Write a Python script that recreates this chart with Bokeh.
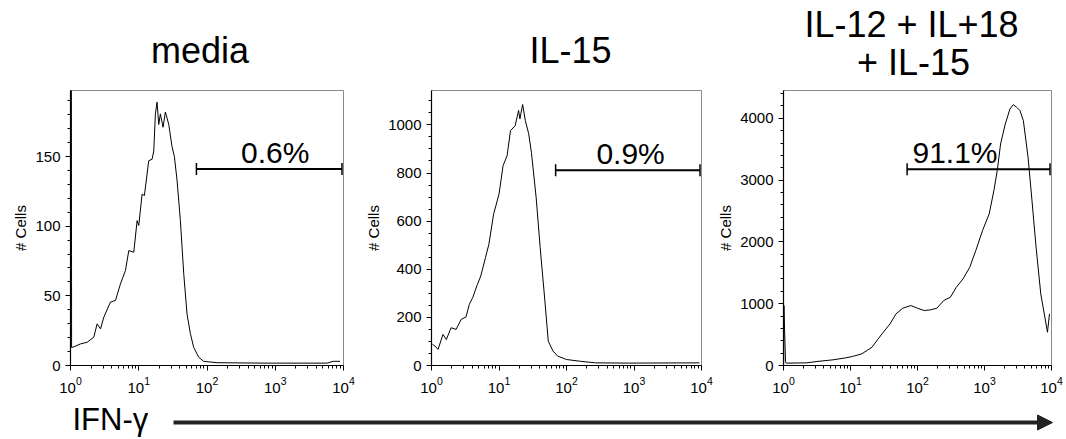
import math
from bokeh.plotting import figure
from bokeh.layouts import row, column
from bokeh.models import Range1d, Label, FixedTicker, Arrow, NormalHead
from bokeh.embed import file_html
from bokeh.resources import INLINE

FONT = "Liberation Sans"

# ---------------- data (x as log10 of IFN-gamma intensity) ----------------
media_log = [0.012, 0.016, 0.039, 0.146, 0.244, 0.341, 0.39, 0.44, 0.488, 0.585,
             0.659, 0.732, 0.805, 0.854, 0.927, 0.976, 1.0, 1.049, 1.083, 1.146,
             1.195, 1.22, 1.244, 1.268, 1.293, 1.317, 1.356, 1.39, 1.44, 1.488,
             1.522, 1.561, 1.61, 1.659, 1.707, 1.756, 1.805, 1.878, 1.95, 2.146,
             2.88, 3.76, 3.85, 3.95]
media_cells = [260, 13, 13.2, 15.5, 16.7, 20.3, 29.9, 26.3, 34.7, 45.5,
               46.7, 58.6, 68.2, 82.5, 81.3, 104, 100.5, 123, 122, 147,
               148, 154, 180.6, 189, 173, 180.6, 171, 182, 173, 157,
               150, 133, 104, 66, 37, 23, 13, 6, 3, 2,
               1.7, 1.7, 3, 3]

il15_log = [0.015, 0.05, 0.097, 0.17, 0.22, 0.29, 0.365, 0.44, 0.51, 0.56,
            0.61, 0.68, 0.73, 0.8, 0.85, 0.92, 1.0, 1.06, 1.12, 1.17,
            1.24, 1.29, 1.31, 1.35, 1.39, 1.44, 1.48, 1.55, 1.61, 1.68,
            1.73, 1.8, 1.87, 2.0, 2.19, 2.43, 2.92, 3.97]
il15_cells = [88, 81, 67, 129, 108, 157, 150, 192, 201, 254,
              282, 337, 372, 449, 504, 629, 712, 830, 872, 976,
              997, 1060, 1025, 1085, 1018, 963, 886, 699, 490, 268,
              101, 60, 39, 25, 18, 11, 10, 11]

combo_log = [0.002, 0.006, 0.03, 0.04, 0.35, 0.5, 0.74, 0.93, 1.03, 1.17,
             1.32, 1.47, 1.59, 1.68, 1.78, 1.9, 2.0, 2.1, 2.19, 2.29,
             2.39, 2.49, 2.58, 2.68, 2.78, 2.87, 2.97, 3.07, 3.14, 3.19,
             3.24, 3.31, 3.38, 3.43, 3.48, 3.53, 3.58, 3.65, 3.70, 3.77,
             3.84, 3.94, 3.97]
combo_cells = [0, 970, 60, 38, 43, 65, 92, 124, 146, 189,
               296, 512, 674, 836, 927, 970, 927, 890, 900, 927,
               1051, 1105, 1267, 1402, 1590, 1860, 2183, 2453, 2830, 3154,
               3585, 3908, 4151, 4221, 4178, 4124, 3962, 3369, 2776, 1914,
               1159, 539, 836]

titles = ["media", "IL-15", "IL-12 + IL+18", "+ IL-15"]
percents = ["0.6%", "0.9%", "91.1%"]
gate_lo = [70, 69, 70]
gate_hi = [9500, 9500, 9500]
gate_y = [141, 812, 3174]
pct_x = [1000, 890, 363]
y_max = [197.4, 1143, 4450]
y_major = [[0, 50, 100, 150], [0, 200, 400, 600, 800, 1000], [0, 1000, 2000, 3000, 4000]]
y_minor_step = [10, 50, 200]
x_major = [1, 10, 100, 1000, 10000]
x_minor = [k * 10 ** d for d in range(4) for k in range(2, 10)]

series_log = [media_log, il15_log, combo_log]
series_cells = [media_cells, il15_cells, combo_cells]

# ---------------- layout (pixels) ----------------
PAGE_W = 1066
widths = [362, 352, 352]
border_left = [70, 65, 62]
frame_w = [273, 274, 275]
TOP_H = 88          # title strip
ROW_H = 312         # panel row
FRAME_TOP = 2
FRAME_H = 275
BOT_H = 39          # arrow strip

# title strip: x/y in strip pixels (y measured from strip bottom)
title_cx = [199.5, 570, 911, 913]
title_by = [17.5, 17.5, 43.5, 5.5]

top = figure(width=PAGE_W, height=TOP_H, x_range=Range1d(0, PAGE_W),
             y_range=Range1d(0, TOP_H), output_backend="svg",
             toolbar_location=None, min_border=0)
top.axis.visible = False
top.grid.visible = False
top.outline_line_color = None
for t, cx, by in zip(titles, title_cx, title_by):
    top.add_layout(Label(x=cx, y=by, text=t, text_align="center",
                         text_baseline="bottom", text_font=FONT,
                         text_font_size="36px", text_color="black"))

panels = []
for i in range(3):
    bl = border_left[i]
    br = widths[i] - bl - frame_w[i]
    p = figure(width=widths[i], height=ROW_H, x_axis_type="log",
               x_range=Range1d(1, 10000), y_range=Range1d(0, y_max[i]),
               output_backend="svg", toolbar_location=None,
               min_border_left=bl, min_border_right=br,
               min_border_top=FRAME_TOP, min_border_bottom=ROW_H - FRAME_TOP - FRAME_H)
    p.grid.visible = False
    p.outline_line_color = "#8a8a8a"
    p.outline_line_width = 1

    ymin = list(range(0, int(y_max[i]) + 1, y_minor_step[i]))
    p.yaxis.ticker = FixedTicker(ticks=y_major[i], minor_ticks=ymin)
    p.xaxis.ticker = FixedTicker(ticks=x_major, minor_ticks=x_minor)
    for ax in (p.xaxis, p.yaxis):
        ax.axis_line_color = "black"
        ax.axis_line_width = 1.2
        ax.major_tick_line_color = "black"
        ax.minor_tick_line_color = "black"
        ax.major_tick_out = 5
        ax.major_tick_in = 0
        ax.minor_tick_out = 3
        ax.minor_tick_in = 0
        ax.major_label_text_font = FONT
        ax.major_label_text_font_size = "15px"
        ax.major_label_text_color = "black"
    p.xaxis.major_label_standoff = 6
    p.yaxis.major_label_standoff = 5
    p.yaxis.axis_label = "# Cells"
    p.yaxis.axis_label_text_font = FONT
    p.yaxis.axis_label_text_font_size = "15px"
    p.yaxis.axis_label_text_font_style = "normal"
    p.yaxis.axis_label_text_color = "black"
    p.yaxis.axis_label_standoff = 3

    xs = [10 ** v for v in series_log[i]]
    p.line(xs, series_cells[i], line_color="black", line_width=1)

    # gate bar with end caps
    p.segment(x0=[gate_lo[i]], y0=[gate_y[i]], x1=[gate_hi[i]], y1=[gate_y[i]],
              line_color="black", line_width=2)
    p.scatter([gate_lo[i], gate_hi[i]], [gate_y[i], gate_y[i]], marker="dash",
              angle=math.pi / 2, size=12, line_color="black", line_width=1.5)

    p.add_layout(Label(x=pct_x[i], y=gate_y[i], text=percents[i],
                       text_align="center", text_baseline="bottom",
                       text_font=FONT, text_font_size="30px", text_color="black"))
    panels.append(p)

# bottom strip with the IFN-gamma arrow (coordinates are strip pixels)
b = figure(width=PAGE_W, height=BOT_H, x_range=Range1d(0, PAGE_W),
           y_range=Range1d(0, BOT_H), output_backend="svg", toolbar_location=None,
           min_border=0)
b.axis.visible = False
b.grid.visible = False
b.outline_line_color = None
b.add_layout(Label(x=72, y=3, text="IFN-γ", text_align="left",
                   text_baseline="bottom", text_font=FONT,
                   text_font_size="31px", text_color="black"))
b.add_layout(Arrow(x_start=173, y_start=17, x_end=1052, y_end=17, line_width=4,
                   line_color="#222222",
                   end=NormalHead(size=15, fill_color="#222222", line_color="#222222")))

layout = column(top, row(*panels), b)
open("out.html", "w").write(file_html(layout, INLINE))
